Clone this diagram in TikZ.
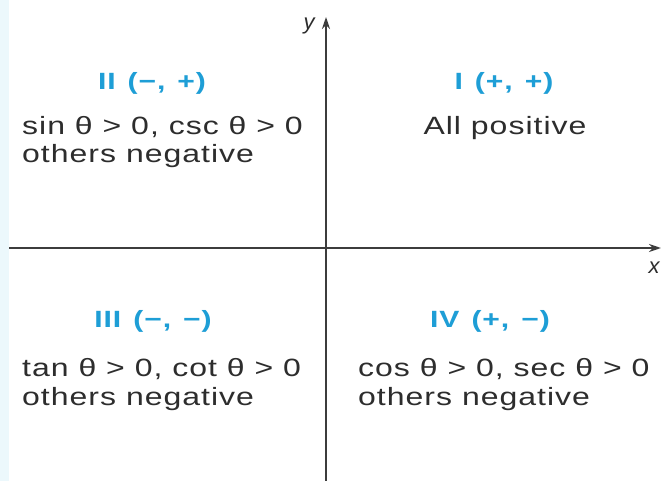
\documentclass[tikz,border=0pt]{standalone}
\usepackage{fontspec}
\setmainfont{Liberation Sans}
\newfontfamily\bodyfont[FakeStretch=1.28,LetterSpace=4]{Liberation Sans}
\definecolor{qblue}{RGB}{30,158,214}
\definecolor{axisgray}{RGB}{60,60,60}
\definecolor{txtgray}{RGB}{45,45,45}
\definecolor{stripblue}{RGB}{236,248,252}
\usetikzlibrary{arrows.meta}
\tikzset{
  body/.style={text=txtgray, inner sep=0pt, anchor=base west, font=\bodyfont\fontsize{25}{28}\selectfont},
  bodyc/.style={body, anchor=base},
  qlabel/.style={text=qblue, inner sep=0pt, anchor=base, font=\bodyfont\bfseries\fontsize{23.5}{26}\selectfont},
  axis/.style={draw=axisgray, line width=2.3pt, -{Stealth[length=12pt,width=8pt]}},
  axlabel/.style={text=txtgray, inner sep=0pt, font=\fontsize{22}{24}\selectfont\itshape},
}
\newcommand{\gap}{\hspace{12pt}}
\begin{document}
\begin{tikzpicture}[x=1pt,y=-1pt]
\useasboundingbox (0,0) rectangle (662,481);
\fill[white] (0,0) rectangle (662,481);
\fill[stripblue] (0,0) rectangle (9,481);
% axes
\coordinate (xs) at (9,248);
\coordinate (xe) at (661,248);
\coordinate (ys) at (326,481);
\coordinate (ye) at (326,17);
\draw[axis] (xs) -- (xe);
\draw[axis] (ys) -- (ye);
\node[axlabel] (ylab) at (309,26) {y};
\node[axlabel] (xlab) at (654,268) {x};
% quadrant II
\node[qlabel] (q2) at (152,90) {II\gap(−,\gap+)};
\node[body] (q2a) at (22,135) {sin θ > 0, csc θ > 0};
\node[body] (q2b) at (22,163) {others negative};
% quadrant I
\node[qlabel] (q1) at (504,90) {I\gap(+,\gap+)};
\node[bodyc] (q1a) at (505,135) {All positive};
% quadrant III
\node[qlabel] (q3) at (153,328) {III\gap(−,\gap−)};
\node[body] (q3a) at (22,377) {tan θ > 0, cot θ > 0};
\node[body] (q3b) at (22,405) {others negative};
% quadrant IV
\node[qlabel] (q4) at (490,328) {IV\gap(+,\gap−)};
\node[body] (q4a) at (358,377) {cos θ > 0, sec θ > 0};
\node[body] (q4b) at (358,405) {others negative};
\end{tikzpicture}
\end{document}
